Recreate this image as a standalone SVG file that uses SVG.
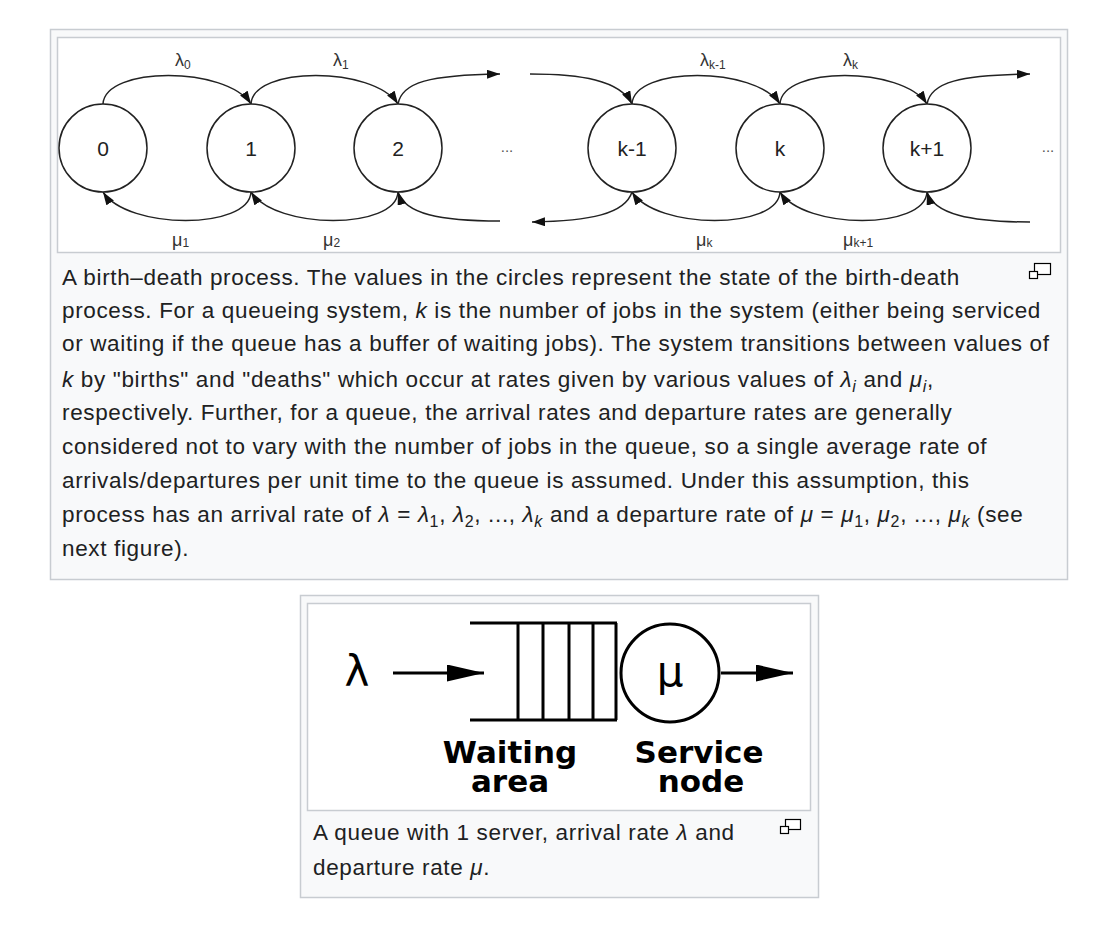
<svg xmlns="http://www.w3.org/2000/svg" width="1100" height="928" viewBox="0 0 1100 928">
<style>
.frame{fill:#f8f9fa;stroke:#c8ccd1;stroke-width:1.5}
.img{fill:#ffffff;stroke:#c8ccd1;stroke-width:1.5}
.st{fill:#ffffff;stroke:#222;stroke-width:1.5}
.sn{font-family:"Liberation Sans",Arial,sans-serif;font-size:21px;fill:#222;text-anchor:middle}
.lb{font-family:"Liberation Sans",Arial,sans-serif;font-size:18px;fill:#333}
.dots{font-family:"Liberation Sans",Arial,sans-serif;font-size:15px;fill:#555;text-anchor:middle}
.ed{fill:none;stroke:#222;stroke-width:1.5}
.cap{font-family:"Liberation Sans",Arial,sans-serif;font-size:22.5px;letter-spacing:0.65px;fill:#202122}
.q{fill:none;stroke:#000;stroke-width:3}
.qt{font-family:"DejaVu Sans",sans-serif;font-size:42px;fill:#000;text-anchor:middle}
.qb{font-family:"DejaVu Sans",sans-serif;font-weight:bold;font-size:31px;fill:#000;text-anchor:middle}
.ic{fill:#fff;stroke:#000;stroke-width:1.2}
</style>
<defs>
<marker id="ah" markerUnits="userSpaceOnUse" markerWidth="14" markerHeight="10" refX="13" refY="4.5" orient="auto">
<path d="M0,0 L13,4.5 L0,9 z" fill="#111"/>
</marker>
<marker id="qa" markerUnits="userSpaceOnUse" markerWidth="38" markerHeight="18" refX="37" refY="8.5" orient="auto">
<path d="M0,0 L37,8.5 L0,17 z" fill="#000"/>
</marker>
</defs>
<rect width="1100" height="928" fill="#ffffff"/>

<!-- Figure frames -->
<rect class="frame" x="50.5" y="29.5" width="1017" height="550"/>
<rect class="img" x="57.5" y="37.5" width="1003" height="215"/>
<rect class="frame" x="300.5" y="595.5" width="518" height="302"/>
<rect class="img" x="307.5" y="603.5" width="503" height="207"/>

<g id="connectors">
<!-- birth arcs (top) -->
<path class="ed" d="M103,104 C105,66 226,66 251,104" marker-end="url(#ah)"/>
<path class="ed" d="M251,104 C253,66 373,66 398,104" marker-end="url(#ah)"/>
<path class="ed" d="M398,104 C402,82 430,75 500,74" marker-end="url(#ah)"/>
<path class="ed" d="M530,74 C580,74 620,80 632,104" marker-end="url(#ah)"/>
<path class="ed" d="M632,104 C634,66 755,66 780,104" marker-end="url(#ah)"/>
<path class="ed" d="M780,104 C782,66 902,66 927,104" marker-end="url(#ah)"/>
<path class="ed" d="M927,104 C931,82 960,75 1030,74" marker-end="url(#ah)"/>
<!-- death arcs (bottom) -->
<path class="ed" d="M251,192 C249,230 128,230 103,192" marker-end="url(#ah)"/>
<path class="ed" d="M398,192 C396,230 276,230 251,192" marker-end="url(#ah)"/>
<path class="ed" d="M500,221 C440,221 405,214 398,192" marker-end="url(#ah)"/>
<path class="ed" d="M632,192 C625,214 590,221 532,222" marker-end="url(#ah)"/>
<path class="ed" d="M780,192 C778,230 657,230 632,192" marker-end="url(#ah)"/>
<path class="ed" d="M927,192 C925,230 805,230 780,192" marker-end="url(#ah)"/>
<path class="ed" d="M1030,222 C970,222 934,214 927,192" marker-end="url(#ah)"/>
<!-- queue arrows -->
<path class="q" d="M393,673 L484,673" marker-end="url(#qa)"/>
<path class="q" d="M721,673 L793,673" marker-end="url(#qa)"/>
</g>

<g id="edge-labels">
<text class="lb" x="175" y="66">λ<tspan font-size="12" dy="3">0</tspan></text>
<text class="lb" x="333" y="66">λ<tspan font-size="12" dy="3">1</tspan></text>
<text class="lb" x="700" y="66">λ<tspan font-size="12" dy="3">k-1</tspan></text>
<text class="lb" x="843" y="66">λ<tspan font-size="12" dy="3">k</tspan></text>
<text class="lb" x="172" y="246">μ<tspan font-size="12" dy="1">1</tspan></text>
<text class="lb" x="323" y="246">μ<tspan font-size="12" dy="1">2</tspan></text>
<text class="lb" x="696" y="246">μ<tspan font-size="12" dy="1">k</tspan></text>
<text class="lb" x="843" y="246">μ<tspan font-size="12" dy="1">k+1</tspan></text>
</g>

<g id="state-0"><circle class="st" cx="103" cy="148" r="44"/><text class="sn" x="103" y="156">0</text></g>
<g id="state-1"><circle class="st" cx="251" cy="148" r="44"/><text class="sn" x="251" y="156">1</text></g>
<g id="state-2"><circle class="st" cx="398" cy="148" r="44"/><text class="sn" x="398" y="156">2</text></g>
<g id="ellipsis-1"><text class="dots" x="507" y="152">...</text></g>
<g id="state-k-1"><circle class="st" cx="632" cy="148" r="44"/><text class="sn" x="632" y="156">k-1</text></g>
<g id="state-k"><circle class="st" cx="780" cy="148" r="44"/><text class="sn" x="780" y="156">k</text></g>
<g id="state-k+1"><circle class="st" cx="927" cy="148" r="44"/><text class="sn" x="927" y="156">k+1</text></g>
<g id="ellipsis-2"><text class="dots" x="1048" y="152">...</text></g>

<g id="caption-1">
<text class="cap" x="62" y="285">A birth–death process. The values in the circles represent the state of the birth-death</text>
<text class="cap" x="62" y="318">process. For a queueing system, <tspan font-style="italic">k</tspan> is the number of jobs in the system (either being serviced</text>
<text class="cap" x="62" y="351">or waiting if the queue has a buffer of waiting jobs). The system transitions between values of</text>
<text class="cap" x="62" y="387"><tspan font-style="italic">k</tspan> by "births" and "deaths" which occur at rates given by various values of <tspan font-style="italic">λ<tspan font-size="16" dy="5">i</tspan></tspan><tspan dy="-5"> and </tspan><tspan font-style="italic">μ<tspan font-size="16" dy="5">i</tspan></tspan><tspan dy="-5">,</tspan></text>
<text class="cap" x="62" y="420">respectively. Further, for a queue, the arrival rates and departure rates are generally</text>
<text class="cap" x="62" y="454">considered not to vary with the number of jobs in the queue, so a single average rate of</text>
<text class="cap" x="62" y="488">arrivals/departures per unit time to the queue is assumed. Under this assumption, this</text>
<text class="cap" x="62" y="522">process has an arrival rate of <tspan font-style="italic">λ</tspan> = <tspan font-style="italic">λ</tspan><tspan font-size="16" dy="5">1</tspan><tspan dy="-5">, </tspan><tspan font-style="italic">λ</tspan><tspan font-size="16" dy="5">2</tspan><tspan dy="-5">, ..., </tspan><tspan font-style="italic">λ<tspan font-size="16" dy="5">k</tspan></tspan><tspan dy="-5"> and a departure rate of </tspan><tspan font-style="italic">μ</tspan> = <tspan font-style="italic">μ</tspan><tspan font-size="16" dy="5">1</tspan><tspan dy="-5">, </tspan><tspan font-style="italic">μ</tspan><tspan font-size="16" dy="5">2</tspan><tspan dy="-5">, ..., </tspan><tspan font-style="italic">μ<tspan font-size="16" dy="5">k</tspan></tspan><tspan dy="-5"> (see</tspan></text>
<text class="cap" x="62" y="556">next figure).</text>
<g id="enlarge-1"><rect class="ic" x="1034.5" y="263.5" width="16" height="11"/><rect class="ic" x="1029.5" y="271.5" width="8" height="7"/></g>
</g>

<g id="arrival"><text class="qt" x="357" y="686">λ</text></g>
<g id="waiting-area">
<path class="q" d="M470,623 H617 M470,720 H617 M518,623 V720 M543,623 V720 M569,623 V720 M593,623 V720 M616,623 V720"/>
<text class="qb" x="510" y="763">Waiting</text>
<text class="qb" x="510" y="792">area</text>
</g>
<g id="service-node">
<circle cx="670" cy="673" r="49" fill="#fff" stroke="#000" stroke-width="3"/>
<text class="qt" x="670" y="686">μ</text>
<text class="qb" x="699" y="763">Service</text>
<text class="qb" x="701" y="792">node</text>
</g>

<g id="caption-2">
<text class="cap" x="313" y="840">A queue with 1 server, arrival rate <tspan font-style="italic">λ</tspan> and</text>
<text class="cap" x="313" y="875">departure rate <tspan font-style="italic">μ</tspan>.</text>
<g id="enlarge-2"><rect class="ic" x="785.5" y="819.5" width="15" height="10"/><rect class="ic" x="780.5" y="826.5" width="8" height="7"/></g>
</g>
</svg>
